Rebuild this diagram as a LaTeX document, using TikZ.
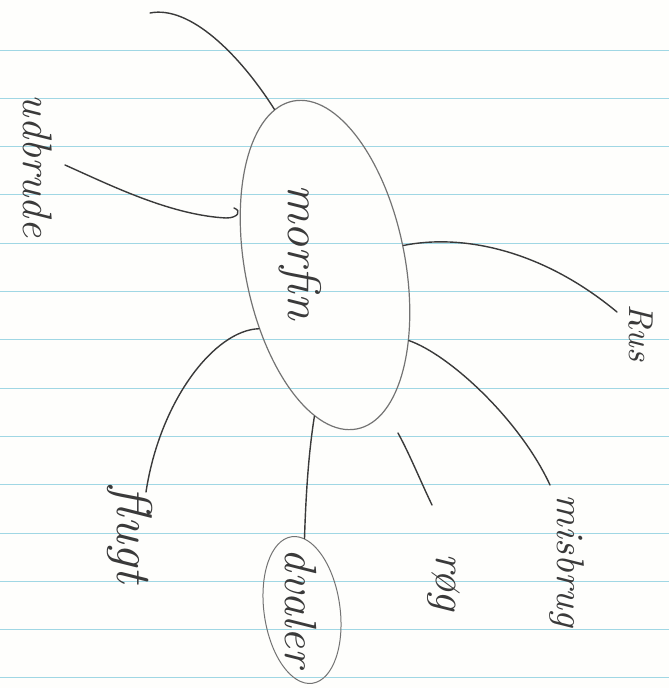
\documentclass[tikz,border=0pt]{standalone}
\usepackage{graphicx}
\usetikzlibrary{shapes.geometric}
\definecolor{paper}{RGB}{254,254,252}
\definecolor{paperline}{RGB}{160,215,228}
\definecolor{pencil}{RGB}{58,58,58}
\definecolor{pencillight}{RGB}{115,115,115}
\newcommand\handw[2]{\resizebox{#1pt}{!}{\itshape #2}}
\begin{document}
\begin{tikzpicture}[x=1pt,y=-1pt,
  conn/.style={draw=pencil, line width=1.4pt, line cap=round},
  lab/.style={rotate=-90, text=pencil, inner sep=0pt},
  bubble/.style={draw=pencillight, line width=1.2pt, ellipse, inner sep=0pt}]
\fill[paper] (0,0) rectangle (669,688);
\useasboundingbox (0,0) rectangle (669,688);
\foreach \k in {0,...,13}
  \draw[paperline, line width=0.9pt] (0,{50+48.3*\k}) -- (669,{50+48.3*\k});

% central bubble and its text
\node[bubble, minimum width=334pt, minimum height=160pt, rotate=-79] (m) at (325,265) {};
\node[lab] (mt) at (300,252) {\handw{135}{morfin}};

% labels
\node[lab] (rus) at (641,333) {\handw{57}{Rus}};
\node[lab] (misbrug) at (567,561) {\handw{132}{misbrug}};
\node[lab] (roeg) at (444,582) {\handw{57}{røg}};
\node[bubble, line width=1pt, minimum width=148pt, minimum height=76pt,
      rotate=-82] (dv) at (302,610) {};
\node[lab] (dvt) at (301,608) {\handw{118}{dvaler}};
\node[lab] (flugt) at (130,535) {\handw{96}{flugt}};
\node[lab] (udbrude) at (38,166) {\handw{142}{udbrude}};

% free ends
\coordinate (tl) at (150,13);
\coordinate (rusend) at (617,312);
\coordinate (misend) at (550,485);
\coordinate (r1) at (398,433);
\coordinate (r2) at (432,505);
\coordinate (flend) at (146,492);
\coordinate (u1) at (65,165);
\coordinate (u2) at (234,208);

% connectors
\draw[conn] (m.187) .. controls (240,55) and (190,5) .. (tl);
\draw[conn] (m.93) .. controls (460,234) and (540,248) .. (rusend);
\draw[conn] (m.37) .. controls (450,355) and (520,420) .. (misend);
\draw[conn] (r1) .. controls (410,455) and (420,480) .. (r2);
\draw[conn] (m.-15) .. controls (309,450) and (306,490) .. (dv.170);
\draw[conn] (m.-57) .. controls (215,330) and (160,400) .. (flend);
\draw[conn] (u1) .. controls (110,185) and (170,215) .. (226,218)
            .. controls (238,218) and (242,211) .. (u2);
\end{tikzpicture}
\end{document}
